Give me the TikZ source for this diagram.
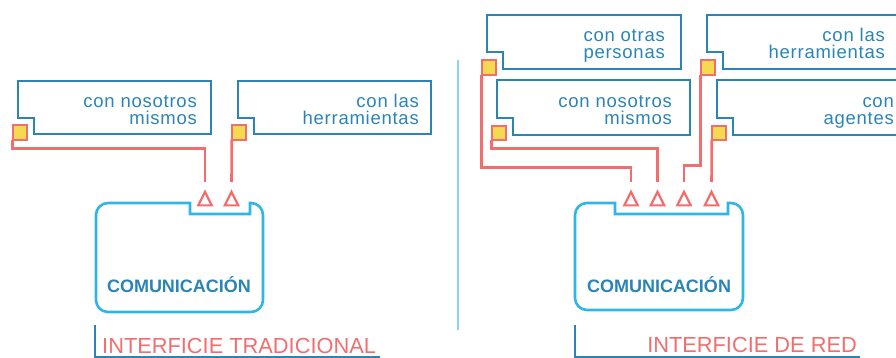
\documentclass[tikz,border=0pt]{standalone}
\usepackage{fontspec}
\setmainfont{Liberation Sans}
\newfontfamily\tabfont[LetterSpace=4]{Liberation Sans}
\usetikzlibrary{shapes.geometric}
\definecolor{tabblue}{HTML}{2A84B6}
\definecolor{commblue}{HTML}{2EB6E8}
\definecolor{lineblue}{HTML}{8AD4F2}
\definecolor{wirered}{HTML}{F26E6E}
\definecolor{plugyellow}{HTML}{F4DA50}

\begin{document}
\begin{tikzpicture}[x=1pt,y=-1pt,
	tab/.style={draw=tabblue,line width=2.6pt},
	tabtext/.style={anchor=base east,align=right,inner sep=0,text=tabblue,font=\tabfont\fontsize{18.5}{17}\selectfont},
	plug/.style={draw=wirered,fill=plugyellow,line width=2.4pt,minimum size=14.5pt,inner sep=0,outer sep=0},
	port/.style={draw=wirered,line width=2.2pt,isosceles triangle,isosceles triangle stretches,shape border rotate=90,minimum width=13.5pt,minimum height=13.5pt,inner sep=0,anchor=apex},
	wire/.style={draw=wirered,line width=2.6pt},
	comm/.style={draw=commblue,line width=2.6pt},
	commtext/.style={anchor=base,inner sep=0,text=tabblue,font=\bfseries\fontsize{18}{18}\selectfont},
	title/.style={inner sep=0,text=wirered,font=\fontsize{21.8}{21.8}\selectfont}]
	\useasboundingbox (0,0) rectangle (896,358);
	\clip (0,0) rectangle (896,358);

	% interficie tradicional
	\draw[tab] (18,81) -- ++(193,0) -- ++(0,53) -- ++(-177,0) -- ++(0,-16) -- ++(-16,0) -- cycle;
	\draw[tab] (238,81) -- ++(193,0) -- ++(0,53) -- ++(-177,0) -- ++(0,-16) -- ++(-16,0) -- cycle;
	\node[tabtext] (nosa) at (197,125) {con nosotros\\mismos};
	\node[tabtext] (hera) at (419,125) {con las\\herramientas};
	\node[plug] (sqa) at (20,132.5) {};
	\node[plug] (sqb) at (239,132.5) {};
	\node[port] (tra) at (205,189) {};
	\node[port] (trb) at (231.5,189) {};
	\draw[wire] (sqa.south west) -- ++(0,9) -| ([yshift=7pt]tra.apex);
	\draw[wire] (sqb.south west) -- ([yshift=7pt]trb.apex);
	\draw[comm] (96,260) [rounded corners=12pt] -- (96,203) [sharp corners] -- (190,203) -- (190,214) -- (250,214) -- (250,203) [rounded corners=12pt] -- (263,203) -- (263,312) -- (96,312) -- cycle;
	\node[commtext] (coma) at (179,292) {COMUNICACIÓN};
	\draw[tabblue,line width=2pt] (95,325) -- (95,357) -- (380,357);
	\node[title,anchor=base west] (tita) at (102,353) {INTERFICIE TRADICIONAL};

	\draw[lineblue,line width=2.5pt] (458,60) -- (458,330);

	% interficie de red
	\draw[tab] (487,15) -- ++(194,0) -- ++(0,54) -- ++(-178,0) -- ++(0,-17) -- ++(-16,0) -- cycle;
	\draw[tab] (497,80) -- ++(193,0) -- ++(0,55) -- ++(-177,0) -- ++(0,-17) -- ++(-16,0) -- cycle;
	\draw[tab] (707,15) -- ++(194,0) -- ++(0,54) -- ++(-178,0) -- ++(0,-17) -- ++(-16,0) -- cycle;
	\draw[tab] (717,80) -- ++(194,0) -- ++(0,55) -- ++(-178,0) -- ++(0,-17) -- ++(-16,0) -- cycle;
	\node[tabtext] (otrb) at (665,59) {con otras\\personas};
	\node[tabtext] (nosb) at (672,125) {con nosotros\\mismos};
	\node[tabtext] (herb) at (885,59) {con las\\herramientas};
	\node[tabtext] (agnb) at (894,125) {con\\agentes};
	\node[plug] (sqc) at (489,67.5) {};
	\node[plug] (sqd) at (499,133) {};
	\node[plug] (sqe) at (708,67.5) {};
	\node[plug] (sqf) at (719,133) {};
	\node[port] (trc) at (631,189) {};
	\node[port] (trd) at (657.5,189) {};
	\node[port] (tre) at (684,189) {};
	\node[port] (trf) at (711.5,189) {};
	\draw[wire] (sqc.south west) -- ++(0,93) -| ([yshift=7pt]trc.apex);
	\draw[wire] (sqd.south west) -- ++(0,8.5) -| ([yshift=7pt]trd.apex);
	\draw[wire] (sqe.south west) -- ++(0,91) -| ([yshift=7pt]tre.apex);
	\draw[wire] (sqf.south west) -- ([yshift=7pt]trf.apex);
	\draw[comm] (575,260) [rounded corners=12pt] -- (575,203) [sharp corners] -- (615,203) -- (615,214) -- (728,214) -- (728,203) [rounded corners=12pt] -- (743,203) -- (743,310) -- (575,310) -- cycle;
	\node[commtext] (comb) at (659,292) {COMUNICACIÓN};
	\draw[tabblue,line width=2pt] (575,325) -- (575,357) -- (860,357);
	\node[title,anchor=base east] (titb) at (857,352) {INTERFICIE DE RED};
\end{tikzpicture}
\end{document}
